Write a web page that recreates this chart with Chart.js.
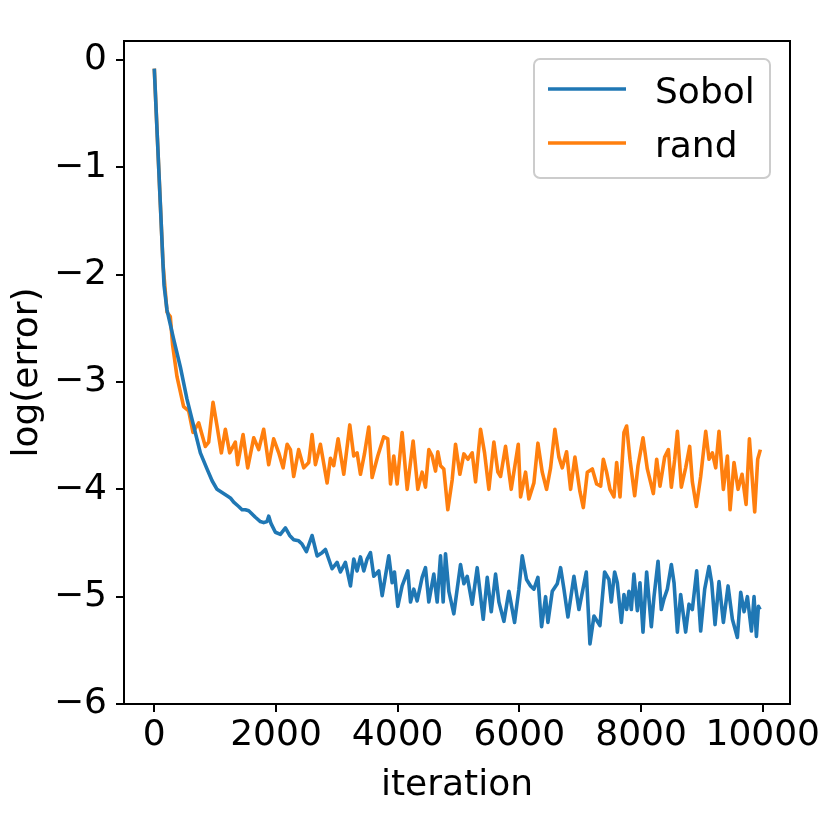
<!DOCTYPE html>
<html>
<head>
  <meta charset="utf-8">
  <title>log(error) vs iteration</title>
  <script src="https://cdn.jsdelivr.net/npm/chart.js@4/dist/chart.umd.min.js"></script>
  <style>
    html, body { margin: 0; padding: 0; background: #fff; }
    #wrap { width: 830px; height: 830px; }
  </style>
</head>
<body>
<div id="wrap"><canvas id="chart"></canvas></div>
<script>
// values
var sobolX = [0, 50, 100, 143, 160, 209, 318, 428, 537, 647, 757, 866, 950, 1031, 1195, 1250, 1305, 1387, 1442, 1497,
  1552, 1590, 1661, 1743, 1798, 1853, 1880, 1919, 1990, 2072, 2155, 2225, 2291, 2373, 2428, 2500, 2593, 2676, 2758, 2812,
  2922, 3004, 3059, 3141, 3224, 3278, 3333, 3388, 3443, 3498, 3553, 3607, 3689, 3745, 3854, 3909, 3947, 4002, 4073, 4166,
  4211, 4265, 4320, 4402, 4457, 4512, 4594, 4649, 4704, 4748, 4786, 4841, 4923, 5033, 5088, 5143, 5225, 5307, 5406, 5472,
  5538, 5609, 5664, 5746, 5828, 5921, 5992, 6047, 6118, 6184, 6239, 6305, 6365, 6431, 6469, 6541, 6623, 6678, 6733, 6798,
  6897, 6979, 7100, 7160, 7226, 7324, 7401, 7472, 7511, 7566, 7610, 7676, 7719, 7763, 7801, 7840, 7883, 7939, 7982, 8032,
  8092, 8169, 8213, 8279, 8333, 8377, 8432, 8498, 8542, 8597, 8651, 8733, 8788, 8843, 8914, 8980, 9046, 9117, 9161, 9216,
  9281, 9353, 9430, 9501, 9583, 9638, 9693, 9748, 9814, 9857, 9896, 9929, 9956];
var sobolY = [-0.08, -0.72, -1.35, -1.90, -2.10, -2.33, -2.60, -2.86, -3.16, -3.41, -3.66, -3.81, -3.92, -4.00, -4.06, -4.08, -4.12, -4.16, -4.19, -4.19,
  -4.20, -4.22, -4.26, -4.30, -4.31, -4.30, -4.25, -4.32, -4.40, -4.42, -4.36, -4.43, -4.47, -4.48, -4.51, -4.58, -4.43, -4.62, -4.59, -4.56,
  -4.74, -4.68, -4.77, -4.68, -4.90, -4.65, -4.76, -4.63, -4.76, -4.65, -4.59, -4.81, -4.76, -4.99, -4.62, -4.87, -4.77, -5.09, -4.90, -4.76,
  -5.05, -4.93, -5.04, -4.82, -4.73, -5.05, -4.79, -5.05, -4.62, -5.05, -4.60, -4.95, -5.16, -4.70, -4.88, -4.81, -5.07, -4.73, -5.21, -4.82,
  -5.14, -4.79, -5.05, -5.23, -4.95, -5.24, -4.93, -4.62, -4.84, -4.90, -4.93, -4.82, -5.28, -5.00, -5.24, -4.95, -4.88, -4.73, -4.93, -5.19,
  -4.81, -5.12, -4.77, -5.44, -5.18, -5.27, -4.77, -4.84, -5.05, -4.77, -4.87, -5.24, -4.98, -5.12, -4.95, -5.12, -4.79, -5.13, -4.87, -5.33,
  -4.77, -5.28, -5.00, -4.67, -5.12, -5.02, -4.93, -4.70, -4.87, -5.33, -4.98, -5.33, -5.07, -5.12, -4.76, -5.32, -4.93, -4.72, -4.87, -5.26,
  -4.86, -5.24, -4.90, -5.21, -5.38, -4.96, -5.14, -5.00, -5.32, -5.00, -5.37, -5.09, -5.12];

var randX = [0, 50, 100, 143, 209, 263, 300, 373, 482, 565, 636, 729, 839, 894, 965, 1031, 1102, 1168, 1239, 1332,
  1370, 1459, 1535, 1634, 1716, 1798, 1880, 1962, 2045, 2117, 2183, 2237, 2291, 2373, 2456, 2538, 2593, 2648, 2730, 2840,
  2895, 2949, 3021, 3114, 3213, 3278, 3333, 3388, 3454, 3525, 3580, 3673, 3771, 3837, 3882, 3936, 3991, 4073, 4156, 4254,
  4331, 4402, 4457, 4512, 4567, 4622, 4660, 4704, 4758, 4824, 4896, 4951, 5022, 5088, 5154, 5225, 5280, 5362, 5428, 5499,
  5581, 5647, 5691, 5773, 5866, 5982, 6020, 6102, 6156, 6239, 6305, 6376, 6447, 6513, 6584, 6650, 6705, 6776, 6842, 6913,
  6995, 7051, 7117, 7199, 7270, 7336, 7380, 7434, 7489, 7555, 7599, 7654, 7719, 7763, 7818, 7895, 7950, 8032, 8103, 8202,
  8257, 8311, 8388, 8449, 8498, 8553, 8597, 8662, 8733, 8799, 8843, 8909, 8980, 9063, 9117, 9172, 9227, 9281, 9353, 9419,
  9463, 9528, 9594, 9660, 9726, 9781, 9836, 9868, 9917, 9961];
var randY = [-0.08, -0.72, -1.35, -1.90, -2.35, -2.39, -2.65, -2.95, -3.23, -3.27, -3.47, -3.38, -3.60, -3.56, -3.19, -3.41, -3.66, -3.44, -3.66, -3.56,
  -3.77, -3.49, -3.80, -3.52, -3.63, -3.44, -3.77, -3.53, -3.66, -3.80, -3.58, -3.63, -3.88, -3.63, -3.80, -3.75, -3.49, -3.77, -3.58, -3.94,
  -3.71, -3.78, -3.53, -3.86, -3.40, -3.69, -3.66, -3.86, -3.67, -3.42, -3.89, -3.69, -3.51, -3.53, -3.95, -3.69, -3.95, -3.47, -4.00, -3.55,
  -4.00, -3.84, -3.98, -3.63, -3.69, -3.83, -3.65, -3.78, -3.81, -4.19, -3.91, -3.58, -3.86, -3.67, -3.72, -3.66, -3.93, -3.44, -3.66, -4.00,
  -3.56, -3.84, -3.88, -3.60, -4.00, -3.58, -4.07, -3.84, -4.09, -3.94, -3.57, -3.84, -4.00, -3.80, -3.44, -3.70, -3.80, -3.65, -4.00, -3.70,
  -4.02, -4.17, -3.84, -3.81, -3.95, -3.97, -3.72, -3.84, -4.00, -4.07, -3.75, -4.07, -3.47, -3.41, -3.72, -4.06, -3.78, -3.52, -3.81, -4.04,
  -3.72, -3.97, -3.70, -3.63, -3.98, -3.72, -3.46, -3.98, -3.80, -3.60, -3.93, -4.16, -3.88, -3.46, -3.72, -3.66, -3.80, -3.46, -4.00, -3.69,
  -4.19, -3.75, -4.00, -3.86, -4.14, -3.53, -3.97, -4.21, -3.72, -3.63];

var xTicks = [0, 2000, 4000, 6000, 8000, 10000];
var yTicks = [-6, -5, -4, -3, -2, -1, 0];
var seriesNames = ["Sobol", "rand"];

function toPoints(xs, ys) {
  var pts = [];
  for (var i = 0; i < xs.length; i++) {
    pts.push({ x: xs[i], y: ys[i] });
  }
  return pts;
}

function minus(v) {
  return String(v).replace("-", "\u2212");
}

var FONT = "'DejaVu Sans', sans-serif";

// frame round the plot area + legend box inside it, like matplotlib
var framePlugin = {
  id: "frame",
  afterDraw: function(chart) {
    var ctx = chart.ctx;
    var a = chart.chartArea;
    ctx.save();
    ctx.strokeStyle = "#000";
    ctx.lineWidth = 2;
    ctx.strokeRect(a.left, a.top, a.right - a.left, a.bottom - a.top);

    // legend
    var bx = 534, by = 59, bw = 236, bh = 119, r = 6;
    ctx.beginPath();
    ctx.moveTo(bx + r, by);
    ctx.arcTo(bx + bw, by, bx + bw, by + bh, r);
    ctx.arcTo(bx + bw, by + bh, bx, by + bh, r);
    ctx.arcTo(bx, by + bh, bx, by, r);
    ctx.arcTo(bx, by, bx + bw, by, r);
    ctx.closePath();
    ctx.fillStyle = "rgba(255,255,255,0.8)";
    ctx.fill();
    ctx.strokeStyle = "#cccccc";
    ctx.lineWidth = 2;
    ctx.stroke();

    ctx.font = "36px " + FONT;
    ctx.textBaseline = "alphabetic";
    ctx.textAlign = "left";
    chart.data.datasets.forEach(function(ds, i) {
      var ly = 89 + i * 54;
      ctx.beginPath();
      ctx.moveTo(548, ly);
      ctx.lineTo(626, ly);
      ctx.strokeStyle = ds.borderColor;
      ctx.lineWidth = 3.3;
      ctx.stroke();
      ctx.fillStyle = "#000";
      ctx.fillText(ds.label, 655, ly + 14);
    });
    ctx.restore();
  }
};

new Chart(document.getElementById("chart"), {
  type: "line",
  data: {
    datasets: [{
      label: seriesNames[0],
      data: toPoints(sobolX, sobolY),
      borderColor: "#1f77b4",
      borderWidth: 3.6,
      pointRadius: 0,
      borderJoinStyle: "round",
      tension: 0
    }, {
      label: seriesNames[1],
      data: toPoints(randX, randY),
      borderColor: "#ff7f0e",
      borderWidth: 3.6,
      pointRadius: 0,
      borderJoinStyle: "round",
      tension: 0
    }]
  },
  options: {
    responsive: true,
    maintainAspectRatio: false,
    animation: false,
    layout: { padding: { top: 41, right: 40, left: 0, bottom: 0 } },
    plugins: {
      legend: { display: false },
      tooltip: { enabled: false }
    },
    scales: {
      x: {
        type: "linear",
        min: -498,
        max: 10448,
        afterFit: function(scale) { scale.height = 126; },
        afterBuildTicks: function(scale) {
          scale.ticks = xTicks.map(function(v) { return { value: v }; });
        },
        border: { display: false },
        grid: { drawOnChartArea: false, drawTicks: true, tickLength: 8, color: "#000", lineWidth: 2 },
        ticks: {
          color: "#000",
          font: { family: FONT, size: 36 },
          padding: 2,
          maxRotation: 0,
          callback: function(v) { return minus(v); }
        },
        title: {
          display: true,
          text: "iteration",
          color: "#000",
          font: { family: FONT, size: 36 },
          padding: { top: 0, bottom: 23 }
        }
      },
      y: {
        type: "linear",
        min: -6,
        max: 0.177,
        afterFit: function(scale) { scale.width = 124; },
        afterBuildTicks: function(scale) {
          scale.ticks = yTicks.map(function(v) { return { value: v }; });
        },
        border: { display: false },
        grid: { drawOnChartArea: false, drawTicks: true, tickLength: 8, color: "#000", lineWidth: 2 },
        ticks: {
          color: "#000",
          font: { family: FONT, size: 36 },
          padding: 9,
          callback: function(v) { return minus(v); }
        },
        title: {
          display: true,
          text: "log(error)",
          color: "#000",
          font: { family: FONT, size: 36 },
          padding: { top: 6, bottom: 0 }
        }
      }
    }
  },
  plugins: [framePlugin]
});
</script>
</body>
</html>
